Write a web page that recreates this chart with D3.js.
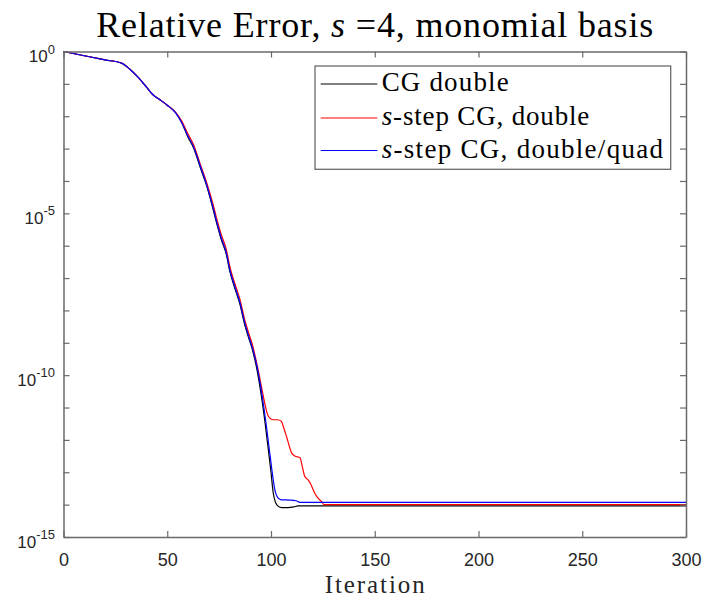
<!DOCTYPE html>
<html>
<head>
<meta charset="utf-8">
<script src="https://cdn.jsdelivr.net/npm/d3@7/dist/d3.min.js"></script>
<style>
  html, body { margin: 0; padding: 0; background: #fff; }
  svg { display: block; }
</style>
</head>
<body>
<svg id="chart" width="704" height="598"></svg>
<script>
// Relative error history for CG variants (s = 4, monomial basis)
const iterCG = [0, 10, 20, 28, 32, 36, 40, 43, 46, 50, 54, 57, 60, 62.5, 66, 69, 72, 74, 76, 78.6, 80, 83, 85, 87.4, 89, 91, 93, 95, 97, 99, 100, 101, 102, 103, 105, 108, 111, 113, 300];
const errCG = [1, 0.741, 0.55, 0.437, 0.282, 0.158, 0.0794, 0.0468, 0.0339, 0.0219, 0.0129, 6.3e-3, 2.24e-3, 1.12e-3, 2.5e-4, 7.1e-5, 1.41e-5, 4.5e-6, 1.58e-6, 5.0e-7, 1.78e-7, 4.0e-8, 1.58e-8, 3.5e-9, 1.58e-9, 6.3e-10, 1.78e-10, 3.2e-11, 4.0e-12, 3.5e-13, 1.0e-13, 2.5e-14, 1.26e-14, 9.5e-15, 8.1e-15, 8.1e-15, 8.5e-15, 9.1e-15, 9.1e-15];

const iterSDouble = [0, 10, 20, 28, 32, 36, 40, 43, 46, 50, 54, 57, 60, 62.5, 66, 69, 72, 74, 76, 78.6, 80, 83, 85, 87.4, 89, 91, 93.8, 96, 97, 98, 99.4, 101, 103, 105, 106, 107.5, 110, 111.5, 114, 115, 116.3, 117.9, 119, 121.1, 123, 124.3, 125.5, 300];
const errSDouble = [1, 0.741, 0.55, 0.437, 0.282, 0.158, 0.0794, 0.0468, 0.0339, 0.0219, 0.0132, 7.1e-3, 2.82e-3, 1.41e-3, 3.16e-4, 8.9e-5, 2.0e-5, 6.3e-6, 2.24e-6, 7.1e-7, 2.5e-7, 5.6e-8, 2.24e-8, 5.0e-9, 2.24e-9, 8.9e-10, 1.45e-10, 2.8e-11, 1.35e-11, 7.1e-12, 4.7e-12, 4.2e-12, 4.2e-12, 3.8e-12, 2.5e-12, 1.26e-12, 3.9e-13, 3.16e-13, 2.8e-13, 1.58e-13, 7.4e-14, 5.8e-14, 4.5e-14, 2.24e-14, 1.5e-14, 1.26e-14, 1.0e-14, 1.0e-14];

const iterSQuad = [0, 10, 20, 28, 32, 36, 40, 43, 46, 50, 54, 57, 60, 62.5, 66, 69, 72, 74, 76, 78.6, 80, 83, 85, 87.4, 89, 91, 93, 95, 97, 99.4, 101, 101.9, 103.5, 105, 109, 112, 114, 300];
const errSQuad = [1, 0.741, 0.55, 0.437, 0.282, 0.158, 0.0794, 0.0468, 0.0339, 0.0219, 0.0129, 6.3e-3, 2.4e-3, 1.2e-3, 2.8e-4, 7.6e-5, 1.58e-5, 5.0e-6, 1.78e-6, 5.6e-7, 2.0e-7, 4.5e-8, 1.78e-8, 4.0e-9, 1.78e-9, 7.1e-10, 2.24e-10, 4.5e-11, 6.3e-12, 4.0e-13, 6.3e-14, 2.8e-14, 1.58e-14, 1.41e-14, 1.38e-14, 1.32e-14, 1.17e-14, 1.17e-14];

const seriesNames = ["CG double", "s-step CG, double", "s-step CG, double/quad"];
const xTicks = [0, 50, 100, 150, 200, 250, 300];
const yTickExponents = [0, -1, -2, -3, -4, -5, -6, -7, -8, -9, -10, -11, -12, -13, -14, -15];
const yLabelExponents = [0, -5, -10, -15];

const W = 704, H = 598;
const plot = { left: 63.5, right: 686, top: 51.5, bottom: 537 };
const axisColor = "#6a6a6a";
const labelColor = "#262626";
const serif = "'Liberation Serif', 'Times New Roman', serif";
const sans = "'Liberation Sans', Arial, sans-serif";

const svg = d3.select("#chart");
svg.append("rect").attr("width", W).attr("height", H).attr("fill", "#fff");

const x = d3.scaleLinear().domain([0, 300]).range([plot.left, plot.right]);
const y = d3.scaleLog().domain([1e-15, 1]).range([plot.bottom, plot.top]);

// Series lines
const series = [
  { it: iterCG, err: errCG, color: "#000000" },
  { it: iterSDouble, err: errSDouble, color: "#ff0000" },
  { it: iterSQuad, err: errSQuad, color: "#0000ff" }
];
const line = d3.line()
  .x(d => x(d[0]))
  .y(d => y(d[1]))
  .curve(d3.curveMonotoneX);

const lines = svg.append("g");
series.forEach(s => {
  lines.append("path")
    .datum(d3.zip(s.it, s.err))
    .attr("fill", "none")
    .attr("stroke", s.color)
    .attr("stroke-width", 1.2)
    .attr("d", line);
});

// Axes (box with inward ticks)
const yTickVals = yTickExponents.map(e => Math.pow(10, e));

const xAxisB = svg.append("g").attr("transform", `translate(0,${plot.bottom})`)
  .call(d3.axisBottom(x).tickValues(xTicks).tickSize(-6).tickSizeOuter(0).tickPadding(16));
const xAxisT = svg.append("g").attr("transform", `translate(0,${plot.top})`)
  .call(d3.axisTop(x).tickValues(xTicks).tickSize(-6).tickSizeOuter(0).tickFormat(""));
const yAxisL = svg.append("g").attr("transform", `translate(${plot.left},0)`)
  .call(d3.axisLeft(y).tickValues(yTickVals).tickSize(-6).tickSizeOuter(0).tickPadding(8.5).tickFormat(""));
const yAxisR = svg.append("g").attr("transform", `translate(${plot.right},0)`)
  .call(d3.axisRight(y).tickValues(yTickVals).tickSize(-6).tickSizeOuter(0).tickFormat(""));

[xAxisB, xAxisT, yAxisL, yAxisR].forEach(g => {
  g.select(".domain").attr("stroke", axisColor).attr("stroke-width", 1.5);
  g.selectAll(".tick line").attr("stroke", axisColor).attr("stroke-width", 1.2);
});

xAxisB.selectAll(".tick text")
  .attr("fill", labelColor)
  .attr("font-family", sans)
  .attr("font-size", 18);

// Power-of-ten labels on the y axis
yAxisL.selectAll(".tick").each(function (d) {
  const e = Math.round(Math.log10(d));
  if (!yLabelExponents.includes(e)) return;
  const t = d3.select(this).select("text")
    .attr("fill", labelColor)
    .attr("font-family", sans)
    .attr("font-size", 17)
    .attr("dy", null)
    .attr("y", 10)
    .attr("text-anchor", "end");
  t.text("10");
  t.append("tspan").attr("dy", -8.5).attr("font-size", 13).text(String(e));
});

// Title
const title = svg.append("text")
  .attr("x", (plot.left + plot.right) / 2)
  .attr("y", 37)
  .attr("text-anchor", "middle")
  .attr("font-family", serif)
  .attr("font-size", 36)
  .attr("textLength", 557)
  .attr("fill", "#000");
title.append("tspan").text("Relative Error, ");
title.append("tspan").attr("font-style", "italic").text("s");
title.append("tspan").text(" =4, monomial basis");

// X axis label
svg.append("text")
  .attr("x", (plot.left + plot.right) / 2)
  .attr("y", 593)
  .attr("text-anchor", "middle")
  .attr("font-family", serif)
  .attr("font-size", 25)
  .attr("textLength", 100)
  .attr("fill", "#262626")
  .text("Iteration");

// Legend
const legend = svg.append("g");
legend.append("rect")
  .attr("x", 315).attr("y", 66)
  .attr("width", 355.7).attr("height", 103.3)
  .attr("fill", "#fff")
  .attr("stroke", axisColor)
  .attr("stroke-width", 1.3);
const rowY = [84, 118, 150.5];
const rowTextLen = [127, 207.6, 281.3];
series.forEach((s, i) => {
  legend.append("line")
    .attr("x1", 320.7).attr("x2", 377.3)
    .attr("y1", rowY[i]).attr("y2", rowY[i])
    .attr("stroke", s.color).attr("stroke-width", 1.2);
  const t = legend.append("text")
    .attr("x", 381.7).attr("y", rowY[i] + 7)
    .attr("font-family", serif)
    .attr("font-size", 27)
    .attr("textLength", rowTextLen[i])
    .attr("fill", "#000");
  const name = seriesNames[i];
  if (name.startsWith("s-")) {
    t.append("tspan").attr("font-style", "italic").text("s");
    t.append("tspan").text(name.slice(1));
  } else {
    t.text(name);
  }
});
</script>
</body>
</html>
